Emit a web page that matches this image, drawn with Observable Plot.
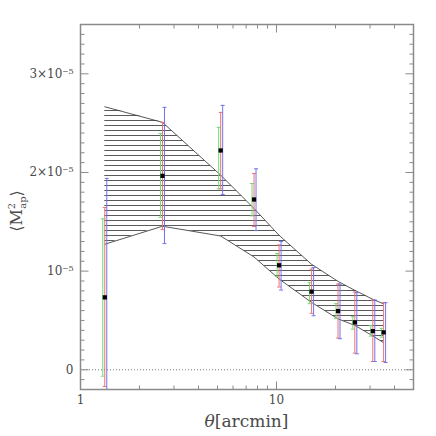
<!DOCTYPE html>
<html><head><meta charset="utf-8">
<script src="https://cdn.jsdelivr.net/npm/d3@7"></script>
<script src="https://cdn.jsdelivr.net/npm/@observablehq/plot@0.6"></script>
<style>body{margin:0;background:#fff} svg{display:block}</style>
</head><body><div id="chart"></div>
<script>
// angular scale theta [arcmin]
const theta = [1.33, 2.62, 5.19, 7.68, 10.31, 15.1, 20.6, 25.1, 31.0, 35.2];
// <M_ap^2> measurements, in units of 1e-5
const mapVal = [0.734, 1.966, 2.223, 1.726, 1.059, 0.792, 0.595, 0.48, 0.392, 0.379];
// error bars of three estimates (green, red, blue), units of 1e-5
const greenLo = [-0.065, 1.546, 1.834, 1.56, 0.947, 0.67, 0.518, 0.412, 0.341, 0.33];
const greenHi = [1.53, 2.396, 2.457, 1.888, 1.178, 0.883, 0.67, 0.538, 0.447, 0.42];
const redLo   = [-0.17, 1.421, 1.834, 1.452, 0.839, 0.572, 0.321, 0.169, 0.084, 0.084];
const redHi   = [1.645, 2.507, 2.609, 1.99, 1.265, 1.021, 0.869, 0.788, 0.707, 0.68];
const blueLo  = [-0.4, 1.279, 1.777, 1.411, 0.808, 0.548, 0.315, 0.162, 0.084, 0.074];
const blueHi  = [1.94, 2.66, 2.68, 2.037, 1.30, 1.036, 0.869, 0.782, 0.707, 0.68];
// model prediction band (hatched), units of 1e-5
const bandLo = [1.272, 1.455, 1.356, 1.143, 0.92, 0.683, 0.516, 0.45, 0.343, 0.274];
const bandHi = [2.666, 2.508, 1.973, 1.635, 1.363, 1.069, 0.896, 0.805, 0.714, 0.668];
// axis ticks and labels
const xMajor = [1, 10];
const xTickLabels = ["1", "10"];
const xMinor = [2, 3, 4, 5, 6, 7, 8, 9, 20, 30, 40, 50];
const yMajor = [0, 1, 2, 3];
const yTickLabels = ["0", "10⁻⁵", "2×10⁻⁵", "3×10⁻⁵"];
const yMinor = d3.range(-2, 36).map(d => d / 10).filter(d => !yMajor.includes(d));

const rows = theta.map((t, i) => ({
  t, v: mapVal[i],
  gLo: greenLo[i], gHi: greenHi[i],
  rLo: redLo[i], rHi: redHi[i],
  bLo: blueLo[i], bHi: blueHi[i],
  mLo: bandLo[i], mHi: bandHi[i]
}));

const green = "#6fdc6f", red = "#f07272", blue = "#7272f2", grey = "#8a8a8a";
const font = "'DejaVu Serif', serif";

const hbar = (a, b) => ({draw(c) { c.moveTo(a, 0); c.lineTo(b, 0); }});
const vbar = (a, b) => ({draw(c) { c.moveTo(0, a); c.lineTo(0, b); }});

function errBar(lo, hi, color, dx) {
  return [
    Plot.ruleX(rows, {x: "t", y1: lo, y2: hi, stroke: color, strokeWidth: 1, dx, clip: true}),
    Plot.dot(rows, {x: "t", y: lo, dx, symbol: hbar(-2, 2), stroke: color, fill: "none", strokeWidth: 1, clip: true}),
    Plot.dot(rows, {x: "t", y: hi, dx, symbol: hbar(-2, 2), stroke: color, fill: "none", strokeWidth: 1, clip: true})
  ];
}

const defs = () => {
  const g = d3.create("svg:defs");
  const p = g.append("pattern").attr("id", "hatch").attr("patternUnits", "userSpaceOnUse")
    .attr("width", 10).attr("height", 5);
  p.append("line").attr("x1", 0).attr("x2", 10).attr("y1", 0.5).attr("y2", 0.5)
    .attr("stroke", "#5a5a5a").attr("stroke-width", 1);
  return g.node();
};

const tickDots = (data, channel, anchor, sym) =>
  Plot.dot(data, {[channel]: d => d, frameAnchor: anchor, symbol: sym, stroke: grey, fill: "none", strokeWidth: 1});

const plot = Plot.plot({
  width: 436, height: 436,
  marginLeft: 80, marginRight: 23, marginTop: 24, marginBottom: 47,
  x: {type: "log", domain: [1, 50], label: null},
  y: {domain: [-0.2, 3.5], label: null},
  style: {fontFamily: font, fontSize: "12px", color: "#4a4a4a", background: "#fff"},
  marks: [
    defs,
    Plot.areaY(rows, {x: "t", y1: "mLo", y2: "mHi", fill: "url(#hatch)"}),
    Plot.line(rows, {x: "t", y: "mHi", stroke: "#444", strokeWidth: 0.9}),
    Plot.line(rows, {x: "t", y: "mLo", stroke: "#444", strokeWidth: 0.9}),
    Plot.ruleY([0], {stroke: "#777", strokeDasharray: "1,2"}),
    ...errBar("gLo", "gHi", green, -2),
    ...errBar("rLo", "rHi", red, 0),
    ...errBar("bLo", "bHi", blue, 2),
    Plot.dot(rows, {x: "t", y: "v", symbol: "square", r: 2.4, fill: "black"}),
    Plot.frame({stroke: grey, strokeWidth: 1.5}),
    tickDots(yMinor, "y", "left", hbar(0, 4)),
    tickDots(yMajor, "y", "left", hbar(0, 8)),
    tickDots(yMinor, "y", "right", hbar(-4, 0)),
    tickDots(yMajor, "y", "right", hbar(-8, 0)),
    tickDots(xMinor, "x", "bottom", vbar(-4, 0)),
    tickDots(xMajor, "x", "bottom", vbar(-8, 0)),
    tickDots(xMinor, "x", "top", vbar(0, 4)),
    tickDots(xMajor, "x", "top", vbar(0, 8)),
    Plot.axisY(yMajor, {tickSize: 0, tickPadding: 7, label: null, fontSize: 12,
      tickFormat: d => yTickLabels[yMajor.indexOf(d)]}),
    Plot.axisX(xMajor, {tickSize: 0, tickPadding: 6, label: null, fontSize: 12,
      tickFormat: d => xTickLabels[xMajor.indexOf(d)]})
  ]
});

const svg = d3.select(plot);
svg.selectAll("text").style("font-family", font);
// x-axis title
const xl = svg.append("text").attr("x", 246.5).attr("y", 427).attr("text-anchor", "middle")
  .attr("fill", "#4a4a4a").style("font-family", font).style("font-size", "17px");
xl.append("tspan").attr("font-style", "italic").text("θ");
xl.append("tspan").text("[arcmin]");
// y-axis title
const yl = svg.append("text").attr("transform", "translate(22,211) rotate(-90)").attr("text-anchor", "middle")
  .attr("fill", "#4a4a4a").style("font-family", font).style("font-size", "16px");
yl.append("tspan").text("⟨M");
yl.append("tspan").attr("font-size", "10px").attr("dy", -7).text("2");
yl.append("tspan").attr("font-size", "10px").attr("dx", -6).attr("dy", 11).text("ap");
yl.append("tspan").attr("dy", -4).text("⟩");

document.getElementById("chart").appendChild(plot);
</script>
</body></html>
